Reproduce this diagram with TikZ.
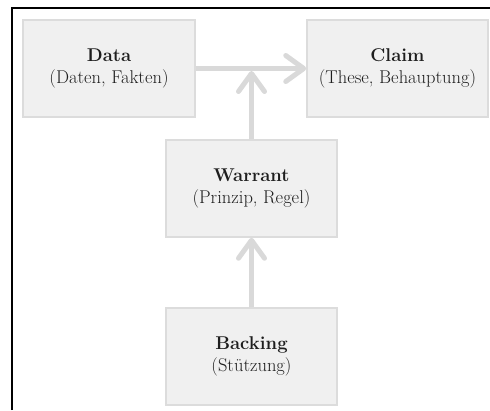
\documentclass[tikz,border=0pt]{standalone}
\usetikzlibrary{arrows.meta}
\definecolor{boxfill}{HTML}{F0F0F0}
\definecolor{boxline}{HTML}{DCDCDC}
\definecolor{arrowcol}{HTML}{D9D9D9}
\definecolor{txt}{HTML}{1E1E1E}
\begin{document}
\begin{tikzpicture}[x=1pt,y=-1pt,
  box/.style={draw=boxline, line width=1.5pt, fill=boxfill, align=center,
    inner sep=0pt, minimum height=97pt, text=txt,
    font=\fontsize{18.5}{22.5}\selectfont},
  conn/.style={draw=arrowcol, line width=5pt,
    -{Straight Barb[length=18pt,width=26pt,round]}}
]
\useasboundingbox (0,0) rectangle (490,410);
% frame (top and left only)
\draw[line width=2pt] (12,410) -- (12,8) -- (490,8);

\node[box, minimum width=172pt] (data) at (109,68.5) {\textbf{Data}\\(Daten, Fakten)};
\node[box, minimum width=181pt] (claim) at (397.5,68.5) {\textbf{Claim}\\(These, Behauptung)};
\node[box, minimum width=171pt] (warrant) at (251.5,188.5) {\textbf{Warrant}\\(Prinzip, Regel)};
\node[box, minimum width=171pt] (backing) at (251.5,356.5) {\textbf{Backing}\\(Stützung)};

\coordinate (join) at (warrant.north |- data.east);

\draw[conn] (data.east) -- (claim.west);
\draw[conn, shorten >=2.5pt] (warrant.north) -- (join);
\draw[conn] (backing.north) -- (warrant.south);
\end{tikzpicture}
\end{document}
